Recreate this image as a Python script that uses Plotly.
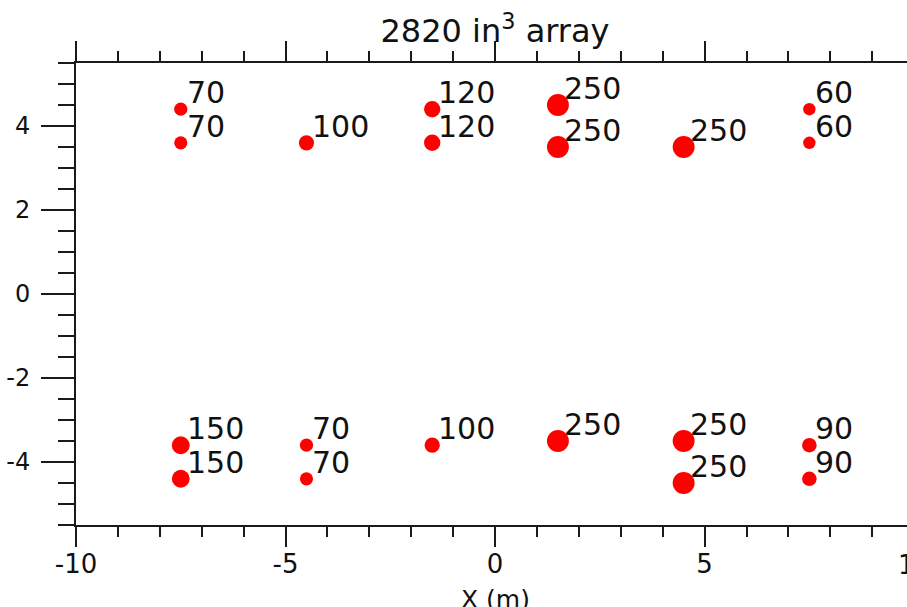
import plotly.graph_objects as go

# Gun positions (m) and volumes (in^3)
x_pos = [-7.5, -7.5, -4.5, -1.5, -1.5, 1.5, 1.5, 4.5, 7.5, 7.5,
         -7.5, -7.5, -4.5, -4.5, -1.5, 1.5, 4.5, 4.5, 7.5, 7.5]
y_pos = [4.4, 3.6, 3.6, 4.4, 3.6, 4.5, 3.5, 3.5, 4.4, 3.6,
         -3.6, -4.4, -3.6, -4.4, -3.6, -3.5, -3.5, -4.5, -3.6, -4.4]
volumes = [70, 70, 100, 120, 120, 250, 250, 250, 60, 60,
           150, 150, 70, 70, 100, 250, 250, 250, 90, 90]

x_tickvals = [-10, -5, 0, 5]
x_ticktext = ["-10", "-5", "0", "5"]
y_tickvals = [-4, -2, 0, 2, 4]
y_ticktext = ["-4", "-2", "0", "2", "4"]

title_text = "2820 in<sup>3</sup> array"
x_title = "X (m)"

X_MIN, X_MAX = -10, 9.83
AX = "#1a1a1a"
FONT = "DejaVu Sans"
TXT = "#111111"

sizes = [2.41 * v ** 0.4 for v in volumes]

fig = go.Figure()
fig.add_trace(go.Scatter(
    x=x_pos, y=y_pos, mode="markers",
    marker=dict(color="#ff0000", size=sizes, sizemode="diameter", opacity=1,
                line=dict(width=0)),
    showlegend=False, hoverinfo="skip",
))

annotations = []
for xv, yv, v in zip(x_pos, y_pos, volumes):
    annotations.append(dict(
        x=xv, y=yv, xref="x", yref="y", text=str(v), showarrow=False,
        xanchor="left", yanchor="bottom", xshift=4, yshift=-3,
        font=dict(family=FONT, size=30, color=TXT),
    ))

# "10" tick label lies just past the right edge of the cropped view
annotations.append(dict(
    x=(10 - X_MIN) / (X_MAX - X_MIN), y=0, xref="paper", yref="paper",
    text="10", showarrow=False, xanchor="center", yanchor="top", yshift=-23,
    font=dict(family=FONT, size=26, color=TXT),
))
# x-axis title, centred under x = 0 as in the reference
annotations.append(dict(
    x=0, y=0, xref="x", yref="paper", text=x_title, showarrow=False,
    xanchor="center", yanchor="top", yshift=-58,
    font=dict(family=FONT, size=25, color=TXT),
))

fig.update_layout(
    width=907, height=607,
    margin=dict(l=76, r=0, t=63, b=82, autoexpand=False),
    paper_bgcolor="white", plot_bgcolor="white",
    font=dict(family=FONT, color=TXT),
    title=dict(text=title_text, x=495 / 907, xanchor="center", xref="container",
               y=1 - 31 / 607, yanchor="middle", yref="container",
               font=dict(family=FONT, size=32, color=TXT)),
    annotations=annotations,
    showlegend=False,
)

fig.update_xaxes(
    automargin=False,
    range=[X_MIN, X_MAX], tickmode="array", tickvals=x_tickvals, ticktext=x_ticktext,
    ticks="outside", ticklen=20, tickwidth=2, tickcolor=AX,
    showline=True, linewidth=2, linecolor=AX, mirror="ticks",
    showgrid=False, zeroline=False,
    tickfont=dict(family=FONT, size=26, color=TXT),
    ticklabelstandoff=-5,
    minor=dict(tickmode="linear", tick0=0, dtick=1, ticks="outside", ticklen=10,
               tickwidth=2, tickcolor=AX, showgrid=False),
)
fig.update_yaxes(
    automargin=False,
    range=[-5.5, 5.5], tickmode="array", tickvals=y_tickvals, ticktext=y_ticktext,
    ticks="outside", ticklen=33, tickwidth=2, tickcolor=AX,
    showline=True, linewidth=2, linecolor=AX, mirror=False,
    showgrid=False, zeroline=False,
    tickfont=dict(family=FONT, size=24, color=TXT),
    ticklabelstandoff=6,
    minor=dict(tickmode="linear", tick0=0, dtick=0.5, ticks="outside", ticklen=16,
               tickwidth=2, tickcolor=AX, showgrid=False),
)

fig.write_html(
    "out.html",
    config={"displayModeBar": False},
    post_script=(
        "document.body.style.margin='0px';"
        "document.body.style.overflow='hidden';"
        "document.documentElement.style.overflow='hidden';"
    ),
)
